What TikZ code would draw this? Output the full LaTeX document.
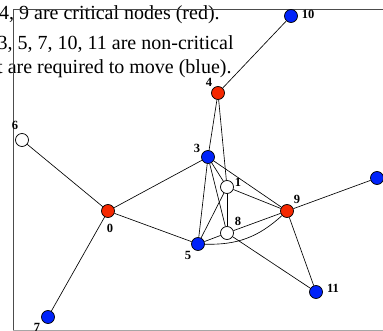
\documentclass[tikz,border=0pt]{standalone}
\usepackage{fontspec}
\setmainfont{Liberation Serif}
\definecolor{critred}{RGB}{245,40,0}
\definecolor{moveblue}{RGB}{0,35,250}
\tikzset{
  vert/.style={circle, draw=black, line width=0.7pt, minimum size=13pt, inner sep=0pt},
  crit/.style={vert, fill=critred},
  mover/.style={vert, fill=moveblue},
  idle/.style={vert, fill=white},
  lbl/.style={font=\fontsize{12.5}{12.5}\selectfont\bfseries, inner sep=0pt},
  note/.style={font=\fontsize{20}{20}\selectfont, inner sep=0pt, anchor=base west},
  link/.style={line width=0.65pt}
}
\begin{document}
\begin{tikzpicture}[x=1pt, y=-1pt]
  \useasboundingbox (0,0) rectangle (383,331);
  \clip (0,0) rectangle (383,331);

  % Caption text (cut at the left)
  \node[note] (t1) at (-1,19.5) {4, 9 are critical nodes (red).};
  \node[note] (t2) at (-2.5,50) {3, 5, 7, 10, 11 are non-critical};
  \node[note] (t3) at (-3,73.5) {t are required to move (blue).};

  % Frame
  \draw[black!70, line width=0.8pt] (13,400) -- (13,9) -- (400,9);
  \draw[black!35, line width=0.8pt] (13,330) -- (400,330);

  % Vertices
  \node[crit]  (n0)  at (108,211) {};
  \node[idle]  (n1)  at (227,187) {};
  \node[mover] (n2)  at (377,178) {};
  \node[mover] (n3)  at (208,157) {};
  \node[crit]  (n4)  at (218,93)  {};
  \node[mover] (n5)  at (198,244) {};
  \node[idle]  (n6)  at (22,140)  {};
  \node[mover] (n7)  at (48,317)  {};
  \node[idle]  (n8)  at (227,233) {};
  \node[crit]  (n9)  at (287,211) {};
  \node[mover] (n10) at (291,16)  {};
  \node[mover] (n11) at (316,292) {};

  % Labels
  \node[lbl] (l0)  at (110,228) {0};
  \node[lbl] (l1)  at (238,182) {1};
  \node[lbl] (l3)  at (197,148) {3};
  \node[lbl] (l4)  at (209,82)  {4};
  \node[lbl] (l5)  at (188,255) {5};
  \node[lbl] (l6)  at (15,125)  {6};
  \node[lbl] (l7)  at (37,327)  {7};
  \node[lbl] (l8)  at (238,221) {8};
  \node[lbl] (l9)  at (297,199) {9};
  \node[lbl] (l10) at (308,14)  {10};
  \node[lbl] (l11) at (333,288) {11};

  % Edges
  \draw[link] (n0) -- (n6);
  \draw[link] (n0) -- (n7);
  \draw[link] (n0) -- (n3);
  \draw[link] (n0) -- (n5);
  \draw[link] (n4) -- (n10);
  \draw[link] (n4) -- (n3);
  \draw[link] (n4) -- (n1);
  \draw[link] (n3) -- (n9);
  \draw[link] (n3) -- (n1);
  \draw[link] (n3) -- (n8);
  \draw[link] (n3) -- (n5);
  \draw[link] (n1) -- (n9);
  \draw[link] (n1) -- (n5);
  \draw[link] (n1) -- (n8);
  \draw[link] (n8) -- (n9);
  \draw[link] (n8) -- (n5);
  \draw[link] (n8) -- (n11);
  \draw[link] (n9) -- (n11);
  \draw[link] (n9) -- (n2);
  \draw[link] (n5) to[bend right=22] (n9);
\end{tikzpicture}
\end{document}
